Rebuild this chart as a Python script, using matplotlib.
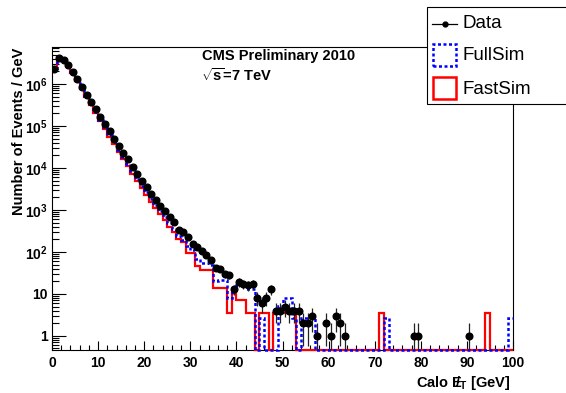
import numpy as np
import matplotlib
matplotlib.use("Agg")
import matplotlib.pyplot as plt
from matplotlib.patches import Rectangle
from matplotlib.lines import Line2D
from matplotlib.ticker import FixedLocator, FixedFormatter, LogLocator, NullFormatter

plt.rcParams['font.family'] = ['Liberation Sans', 'DejaVu Sans']
plt.rcParams['mathtext.fontset'] = 'custom'
plt.rcParams['mathtext.rm'] = 'Liberation Sans'
plt.rcParams['mathtext.bf'] = 'Liberation Sans:bold'
plt.rcParams['mathtext.it'] = 'Liberation Sans:italic'

# 1 GeV bins from 0 to 100 GeV
bin_edges = np.arange(0, 101, 1)

# Events / GeV in data (bins 0..99)
data_counts = [
    2.3e6, 4.2e6, 3.8e6, 2.9e6, 1.95e6, 1.35e6, 8.5e5, 5.6e5, 3.7e5, 2.5e5,
    1.65e5, 1.12e5, 7.4e4, 5.0e4, 3.3e4, 2.25e4, 1.6e4, 1.07e4, 7.2e3, 4.9e3,
    3.5e3, 2.4e3, 1.74e3, 1.26e3, 950, 690, 520, 340, 290, 225,
    150, 130, 107, 85, 65, 41, 40, 30, 28, 13,
    19, 17, 16, 17, 8, 6, 8, 13, 4, 4,
    5, 4, 4, 4, 2, 2, 3, 1, 0, 2,
    1, 3, 2, 1, 0, 0, 0, 0, 0, 0,
    0, 0, 0, 0, 0, 0, 0, 0, 1, 1,
    0, 0, 0, 0, 0, 0, 0, 0, 0, 0,
    1, 0, 0, 0, 0, 0, 0, 0, 0, 0,
]

# Full detector simulation, normalised to data
fullsim_counts = [
    2.2e6, 4.4e6, 4.0e6, 3.0e6, 1.9e6, 1.25e6, 8.0e5, 5.1e5, 3.3e5, 2.15e5,
    1.42e5, 9.4e4, 6.2e4, 4.1e4, 2.7e4, 1.8e4, 1.25e4, 8.3e3, 5.6e3, 3.8e3,
    2.65e3, 1.8e3, 1.3e3, 930, 670, 480, 350, 245, 190, 140,
    110, 68, 55, 55, 50, 20, 21, 21, 7.8, 13,
    16, 16, 13, 13, 0, 2.6, 0, 0, 0, 5.2,
    7.8, 7.8, 2.6, 0, 2.6, 2.6, 2.6, 0, 0, 0,
    0, 0, 0, 0, 0, 0, 0, 0, 0, 0,
    0, 0, 2.6, 0, 0, 0, 0, 0, 0, 0,
    0, 0, 0, 0, 0, 0, 0, 0, 0, 0,
    0, 0, 0, 0, 0, 0, 0, 0, 0, 2.6,
]

# Fast simulation, normalised to data
fastsim_counts = [
    2.1e6, 4.3e6, 4.0e6, 3.0e6, 1.85e6, 1.2e6, 7.6e5, 4.8e5, 3.1e5, 2.0e5,
    1.3e5, 8.6e4, 5.6e4, 3.7e4, 2.4e4, 1.6e4, 1.1e4, 7.3e3, 4.9e3, 3.3e3,
    2.3e3, 1.55e3, 1.1e3, 780, 560, 400, 290, 200, 175, 95,
    95, 47, 37, 37, 37, 14, 14, 14, 3.5, 10.5,
    7, 7, 3.5, 3.5, 0, 3.5, 3.5, 0, 3.5, 3.5,
    3.5, 3.5, 3.5, 0, 0, 0, 0, 0, 0, 0,
    0, 0, 0, 0, 0, 0, 0, 0, 0, 0,
    0, 3.5, 0, 0, 0, 0, 0, 0, 0, 0,
    0, 0, 0, 0, 0, 0, 0, 0, 0, 0,
    0, 0, 0, 0, 3.5, 0, 0, 0, 0, 0,
]

x_ticks = [0, 10, 20, 30, 40, 50, 60, 70, 80, 90, 100]
y_ticks = [1, 10, 1e2, 1e3, 1e4, 1e5, 1e6]
y_tick_labels = ['1', '10', r'$\mathbf{10^{2}}$', r'$\mathbf{10^{3}}$',
                 r'$\mathbf{10^{4}}$', r'$\mathbf{10^{5}}$', r'$\mathbf{10^{6}}$']

W, H = 566, 393
YMIN, YMAX = 0.46, 7.6e6


def fx(px):
    return px / W


def fy(py):
    return 1 - py / H


fig = plt.figure(figsize=(W / 100, H / 100), dpi=100)
ax = fig.add_axes([fx(52), fy(350), (513 - 52) / W, (350 - 47) / H])
ax.set_yscale('log')
ax.set_xlim(0, 100)
ax.set_ylim(YMIN, YMAX)

edges = np.asarray(bin_edges)
centers = 0.5 * (edges[:-1] + edges[1:])
full = np.maximum(np.asarray(fullsim_counts, float), YMIN)
fast = np.maximum(np.asarray(fastsim_counts, float), YMIN)

ax.stairs(fast, edges, baseline=None, color='#ff0000', lw=1.6, zorder=3,
          clip_on=False)
ax.stairs(full, edges, baseline=None, color='#0000ff', lw=1.8,
          ls=(0, (1.2, 1.0)), zorder=4, clip_on=False)

d = np.asarray(data_counts, float)
m = d > 0
err = np.sqrt(d[m])
lo = np.minimum(err, d[m] - 1e-3)
ax.errorbar(centers[m], d[m], yerr=[lo, err], fmt='o', color='black',
            ms=4.8, ecolor='#222222', elinewidth=0.9, capsize=0, zorder=5)

# axis styling
for s in ax.spines.values():
    s.set_linewidth(0.8)
ax.xaxis.set_major_locator(FixedLocator(x_ticks))
ax.xaxis.set_minor_locator(FixedLocator(np.arange(0, 101, 2)))
ax.set_xticklabels([str(v) for v in x_ticks], fontweight='bold', fontsize=10)
ax.yaxis.set_major_locator(FixedLocator(y_ticks))
ax.yaxis.set_major_formatter(FixedFormatter(y_tick_labels))
ax.yaxis.set_minor_locator(LogLocator(base=10, subs=np.arange(2, 10), numticks=20))
ax.yaxis.set_minor_formatter(NullFormatter())
for lab in ax.get_yticklabels():
    lab.set_fontweight('bold')
    lab.set_fontsize(10)
ax.tick_params(axis='both', which='both', direction='in', top=False, right=False,
               width=0.8, color='black')
ax.tick_params(axis='x', which='major', length=6.5, pad=4)
ax.tick_params(axis='x', which='minor', length=3.5)
ax.tick_params(axis='y', which='major', length=10, pad=3)
ax.tick_params(axis='y', which='minor', length=5)

# axis titles
fig.text(fx(510), fy(383), r'Calo $\mathbf{E\!\!\!/_{T}}$ [GeV]', ha='right',
         va='center', fontsize=10.5, fontweight='bold')
fig.text(fx(19), fy(48), 'Number of Events / GeV', rotation=90, ha='center',
         va='top', fontsize=10.5, fontweight='bold')

# labels inside the frame
fig.text(fx(202), fy(56), 'CMS Preliminary 2010', ha='left', va='center',
         fontsize=10.5, fontweight='bold')
fig.text(fx(201), fy(75), r'$\sqrt{\mathbf{s}}$=7 TeV', ha='left', va='center',
         fontsize=10.5, fontweight='bold')

# legend box
fig.add_artist(Rectangle((fx(427), fy(104)), fx(200), (104 - 7) / H,
                         transform=fig.transFigure, fc='white', ec='black',
                         lw=0.8, zorder=10))
fig.add_artist(Line2D([fx(432), fx(457)], [fy(24), fy(24)], color='black',
                      lw=0.9, transform=fig.transFigure, zorder=11))
fig.add_artist(Line2D([fx(444.5)], [fy(24)], color='black', marker='o', ms=3.5,
                      ls='none', transform=fig.transFigure, zorder=11))
fig.add_artist(Rectangle((fx(433), fy(66)), fx(23), (66 - 44) / H,
                         transform=fig.transFigure, fc='none', ec='#0000ff',
                         lw=1.8, ls=(0, (1.2, 1.0)), zorder=11))
fig.add_artist(Rectangle((fx(433), fy(99)), fx(23), (99 - 77) / H,
                         transform=fig.transFigure, fc='none', ec='#ff0000',
                         lw=1.8, zorder=11))
for label, ypx in [('Data', 24), ('FullSim', 56), ('FastSim', 89)]:
    fig.text(fx(463), fy(ypx), label, ha='left', va='center', fontsize=13.5,
             zorder=12)

fig.savefig('out.png', dpi=100)
